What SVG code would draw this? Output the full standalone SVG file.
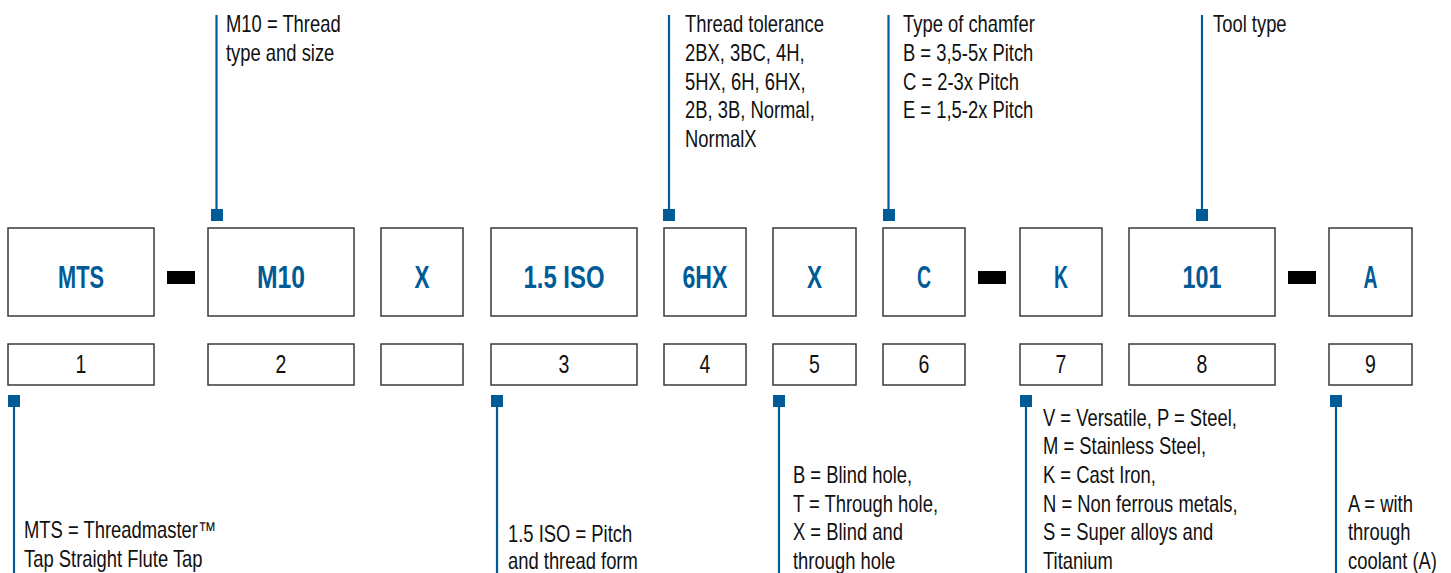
<svg xmlns="http://www.w3.org/2000/svg" width="1451" height="573" viewBox="0 0 1451 573">
<style>
.box{fill:#fff;stroke:#3a3a3a;stroke-width:1.5}
.code{font-family:"Liberation Sans",Arial,sans-serif;font-weight:bold;font-size:32px;fill:#005b97;text-anchor:middle}
.num{font-family:"Liberation Sans",Arial,sans-serif;font-size:25px;fill:#111;text-anchor:middle}
.lbl{font-family:"Liberation Sans",Arial,sans-serif;font-size:23px;fill:#111}
.lead{stroke:#005b97;stroke-width:2.2;fill:none}
.dot{fill:#005b97}
.dash{fill:#000}
</style>
<g id="connectors">
<line class="lead" x1="216.5" y1="15" x2="216.5" y2="210"/><rect class="dot" x="211" y="209" width="12" height="12"/>
<line class="lead" x1="669" y1="15" x2="669" y2="210"/><rect class="dot" x="663" y="209" width="12" height="12"/>
<line class="lead" x1="888.5" y1="15" x2="888.5" y2="210"/><rect class="dot" x="883" y="209" width="12" height="12"/>
<line class="lead" x1="1202" y1="15" x2="1202" y2="210"/><rect class="dot" x="1196" y="209" width="12" height="12"/>
<line class="lead" x1="14" y1="406" x2="14" y2="573"/><rect class="dot" x="8" y="395" width="12" height="12"/>
<line class="lead" x1="497" y1="406" x2="497" y2="573"/><rect class="dot" x="491" y="395" width="12" height="12"/>
<line class="lead" x1="779" y1="406" x2="779" y2="573"/><rect class="dot" x="773" y="395" width="12" height="12"/>
<line class="lead" x1="1026" y1="406" x2="1026" y2="573"/><rect class="dot" x="1020" y="395" width="12" height="12"/>
<line class="lead" x1="1336" y1="406" x2="1336" y2="573"/><rect class="dot" x="1330" y="395" width="12" height="12"/>
<rect class="dash" x="167" y="271" width="28" height="13"/>
<rect class="dash" x="978" y="271" width="28" height="13"/>
<rect class="dash" x="1288" y="271" width="28" height="13"/>
</g>
<g id="n1"><rect class="box" x="8" y="228" width="146" height="88"/><text class="code" x="81" y="288" textLength="46" lengthAdjust="spacingAndGlyphs">MTS</text>
<rect class="box" x="8" y="344" width="146" height="41"/><text class="num" transform="translate(81 373) scale(.78 1)">1</text></g>
<g id="n2"><rect class="box" x="208" y="228" width="146" height="88"/><text class="code" x="281" y="288" textLength="48" lengthAdjust="spacingAndGlyphs">M10</text>
<rect class="box" x="208" y="344" width="146" height="41"/><text class="num" transform="translate(281 373) scale(.78 1)">2</text></g>
<g id="nx1"><rect class="box" x="381" y="228" width="82" height="88"/><text class="code" x="422" y="288" textLength="15" lengthAdjust="spacingAndGlyphs">X</text>
<rect class="box" x="381" y="344" width="82" height="41"/></g>
<g id="n3"><rect class="box" x="491" y="228" width="146" height="88"/><text class="code" x="564" y="288" textLength="81" lengthAdjust="spacingAndGlyphs">1.5 ISO</text>
<rect class="box" x="491" y="344" width="146" height="41"/><text class="num" transform="translate(564 373) scale(.78 1)">3</text></g>
<g id="n4"><rect class="box" x="664" y="228" width="82" height="88"/><text class="code" x="705" y="288" textLength="45" lengthAdjust="spacingAndGlyphs">6HX</text>
<rect class="box" x="664" y="344" width="82" height="41"/><text class="num" transform="translate(705 373) scale(.78 1)">4</text></g>
<g id="n5"><rect class="box" x="773" y="228" width="83" height="88"/><text class="code" x="814.5" y="288" textLength="15" lengthAdjust="spacingAndGlyphs">X</text>
<rect class="box" x="773" y="344" width="83" height="41"/><text class="num" transform="translate(814.5 373) scale(.78 1)">5</text></g>
<g id="n6"><rect class="box" x="883" y="228" width="82" height="88"/><text class="code" x="924" y="288" textLength="14" lengthAdjust="spacingAndGlyphs">C</text>
<rect class="box" x="883" y="344" width="82" height="41"/><text class="num" transform="translate(924 373) scale(.78 1)">6</text></g>
<g id="n7"><rect class="box" x="1020" y="228" width="82" height="88"/><text class="code" x="1061" y="288" textLength="14" lengthAdjust="spacingAndGlyphs">K</text>
<rect class="box" x="1020" y="344" width="82" height="41"/><text class="num" transform="translate(1061 373) scale(.78 1)">7</text></g>
<g id="n8"><rect class="box" x="1129" y="228" width="146" height="88"/><text class="code" x="1202" y="288" textLength="39" lengthAdjust="spacingAndGlyphs">101</text>
<rect class="box" x="1129" y="344" width="146" height="41"/><text class="num" transform="translate(1202 373) scale(.78 1)">8</text></g>
<g id="n9"><rect class="box" x="1329" y="228" width="83" height="88"/><text class="code" x="1370.5" y="288" textLength="14" lengthAdjust="spacingAndGlyphs">A</text>
<rect class="box" x="1329" y="344" width="83" height="41"/><text class="num" transform="translate(1370.5 373) scale(.78 1)">9</text></g>
<g id="label-m10"><text class="lbl" transform="translate(226 32) scale(.8 1)">M10 = Thread</text><text class="lbl" transform="translate(226 61) scale(.8 1)">type and size</text></g>
<g id="label-tol"><text class="lbl" transform="translate(685 32) scale(.8 1)">Thread tolerance</text><text class="lbl" transform="translate(685 61) scale(.8 1)">2BX, 3BC, 4H,</text><text class="lbl" transform="translate(685 90) scale(.8 1)">5HX, 6H, 6HX,</text><text class="lbl" transform="translate(685 118) scale(.8 1)">2B, 3B, Normal,</text><text class="lbl" transform="translate(685 147) scale(.8 1)">NormalX</text></g>
<g id="label-chamfer"><text class="lbl" transform="translate(903 32) scale(.8 1)">Type of chamfer</text><text class="lbl" transform="translate(903 61) scale(.8 1)">B = 3,5-5x Pitch</text><text class="lbl" transform="translate(903 90) scale(.8 1)">C = 2-3x Pitch</text><text class="lbl" transform="translate(903 118) scale(.8 1)">E = 1,5-2x Pitch</text></g>
<g id="label-tool"><text class="lbl" transform="translate(1213 32) scale(.8 1)">Tool type</text></g>
<g id="label-mts"><text class="lbl" transform="translate(24 538) scale(.8 1)">MTS = Threadmaster™</text><text class="lbl" transform="translate(24 567) scale(.8 1)">Tap Straight Flute Tap</text></g>
<g id="label-pitch"><text class="lbl" transform="translate(508 542) scale(.8 1)">1.5 ISO = Pitch</text><text class="lbl" transform="translate(508 569) scale(.8 1)">and thread form</text></g>
<g id="label-hole"><text class="lbl" transform="translate(793 483) scale(.8 1)">B = Blind hole,</text><text class="lbl" transform="translate(793 512) scale(.8 1)">T = Through hole,</text><text class="lbl" transform="translate(793 540) scale(.8 1)">X = Blind and</text><text class="lbl" transform="translate(793 569) scale(.8 1)">through hole</text></g>
<g id="label-material"><text class="lbl" transform="translate(1043 426) scale(.8 1)">V = Versatile, P = Steel,</text><text class="lbl" transform="translate(1043 454) scale(.8 1)">M = Stainless Steel,</text><text class="lbl" transform="translate(1043 483) scale(.8 1)">K = Cast Iron,</text><text class="lbl" transform="translate(1043 512) scale(.8 1)">N = Non ferrous metals,</text><text class="lbl" transform="translate(1043 540) scale(.8 1)">S = Super alloys and</text><text class="lbl" transform="translate(1043 569) scale(.8 1)">Titanium</text></g>
<g id="label-coolant"><text class="lbl" transform="translate(1348 512) scale(.8 1)">A = with</text><text class="lbl" transform="translate(1348 540) scale(.8 1)">through</text><text class="lbl" transform="translate(1348 569) scale(.8 1)">coolant (A)</text></g>
</svg>
